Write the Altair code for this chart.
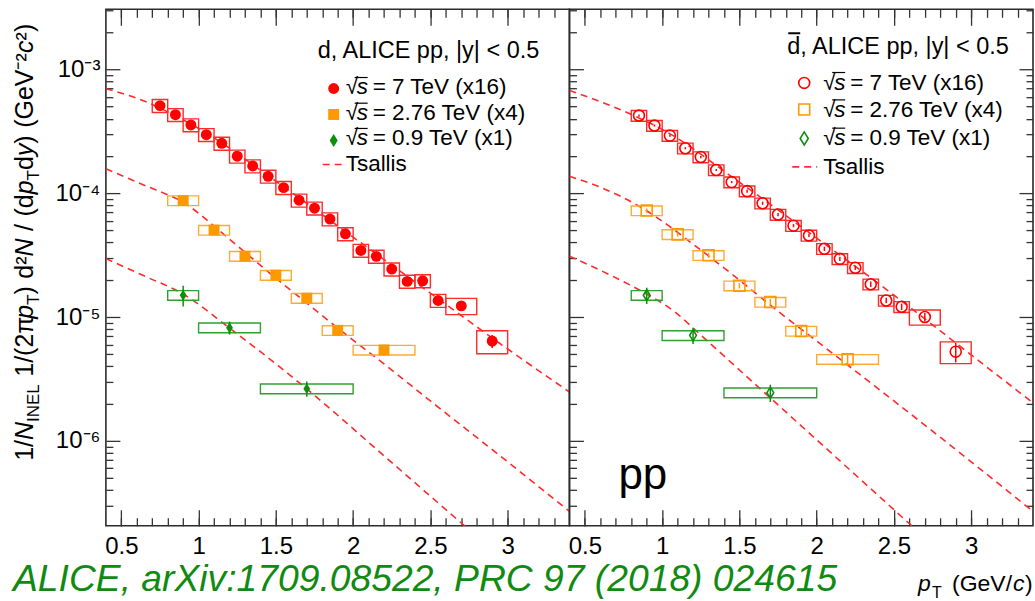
import altair as alt
import pandas as pd

FONT = "Liberation Sans"
SER = ["7", "2.76", "0.9"]

# ---------------- deuterons (left panel) ----------------
d7_pt = [0.75, 0.85, 0.95, 1.05, 1.15, 1.25, 1.35, 1.45, 1.55, 1.65, 1.75,
         1.85, 1.95, 2.05, 2.15, 2.25, 2.35, 2.45, 2.55, 2.7, 2.9]
d7_hw = [0.05, 0.05, 0.05, 0.05, 0.05, 0.05, 0.05, 0.05, 0.05, 0.05, 0.05,
         0.05, 0.05, 0.05, 0.05, 0.05, 0.05, 0.05, 0.05, 0.1, 0.1]
d7_val = [5.10e-4, 4.31e-4, 3.56e-4, 2.97e-4, 2.53e-4, 1.99e-4, 1.66e-4, 1.37e-4,
          1.11e-4, 8.78e-5, 7.57e-5, 6.19e-5, 4.70e-5, 3.45e-5, 3.09e-5, 2.44e-5,
          1.94e-5, 1.96e-5, 1.36e-5, 1.23e-5, 6.40e-6]
d7_stat = [0.02, 0.02, 0.02, 0.02, 0.02, 0.02, 0.02, 0.02, 0.03, 0.03, 0.03,
           0.03, 0.03, 0.04, 0.04, 0.04, 0.05, 0.05, 0.06, 0.08, 0.12]
d7_sys = [0.12, 0.12, 0.12, 0.12, 0.12, 0.12, 0.12, 0.12, 0.12, 0.12, 0.12,
          0.12, 0.12, 0.12, 0.12, 0.12, 0.12, 0.12, 0.12, 0.15, 0.21]

d276_pt = [0.9, 1.1, 1.3, 1.5, 1.7, 1.9, 2.2]
d276_hw = [0.1, 0.1, 0.1, 0.1, 0.1, 0.1, 0.2]
d276_val = [8.73e-5, 5.04e-5, 3.10e-5, 2.18e-5, 1.42e-5, 7.81e-6, 5.42e-6]
d276_stat = [0.04, 0.04, 0.05, 0.05, 0.06, 0.10, 0.10]
d276_sys = [0.09, 0.09, 0.09, 0.09, 0.09, 0.09, 0.09]

d09_pt = [0.9, 1.2, 1.7]
d09_hw = [0.1, 0.2, 0.3]
d09_val = [1.50e-5, 8.20e-6, 2.64e-6]
d09_stat = [0.19, 0.12, 0.14]
d09_sys = [0.09, 0.09, 0.09]

# ---------------- anti-deuterons (right panel) ----------------
db7_pt = [0.85, 0.95, 1.05, 1.15, 1.25, 1.35, 1.45, 1.55, 1.65, 1.75, 1.85,
          1.95, 2.05, 2.15, 2.25, 2.35, 2.45, 2.55, 2.7, 2.9]
db7_hw = [0.05, 0.05, 0.05, 0.05, 0.05, 0.05, 0.05, 0.05, 0.05, 0.05, 0.05,
          0.05, 0.05, 0.05, 0.05, 0.05, 0.05, 0.05, 0.1, 0.1]
db7_val = [4.24e-4, 3.52e-4, 2.92e-4, 2.31e-4, 1.96e-4, 1.54e-4, 1.23e-4, 1.04e-4,
           8.30e-5, 6.73e-5, 5.47e-5, 4.56e-5, 3.56e-5, 2.95e-5, 2.50e-5, 1.84e-5,
           1.36e-5, 1.21e-5, 1.00e-5, 5.25e-6]
db7_stat = [0.02, 0.02, 0.02, 0.02, 0.02, 0.02, 0.02, 0.03, 0.03, 0.03, 0.03,
            0.03, 0.04, 0.04, 0.04, 0.05, 0.05, 0.06, 0.08, 0.18]
db7_sys = [0.10, 0.10, 0.10, 0.10, 0.10, 0.10, 0.10, 0.10, 0.10, 0.10, 0.10,
           0.10, 0.10, 0.10, 0.10, 0.10, 0.10, 0.10, 0.14, 0.20]

db276_pt = [0.9, 1.1, 1.3, 1.5, 1.7, 1.9, 2.2]
db276_hw = [0.1, 0.1, 0.1, 0.1, 0.1, 0.1, 0.2]
db276_val = [7.24e-5, 4.65e-5, 3.15e-5, 1.79e-5, 1.32e-5, 7.71e-6, 4.56e-6]
db276_stat = [0.04, 0.04, 0.05, 0.05, 0.06, 0.08, 0.10]
db276_sys = [0.09, 0.09, 0.09, 0.09, 0.09, 0.09, 0.09]

db09_pt = [0.9, 1.2, 1.7]
db09_hw = [0.1, 0.2, 0.3]
db09_val = [1.50e-5, 7.11e-6, 2.45e-6]
db09_stat = [0.15, 0.15, 0.16]
db09_sys = [0.09, 0.09, 0.09]

# ---------------- Tsallis curves ----------------
c_d7_pt = [0.4, 0.68, 0.8, 1.0, 1.5, 2.0, 2.5, 3.0, 3.4]
c_d7_val = [6.99e-4, 5.35e-4, 4.54e-4, 3.34e-4, 1.25e-4, 4.42e-5, 1.56e-5, 5.52e-6, 2.48e-6]
c_d276_pt = [0.4, 0.68, 0.8, 0.9, 1.0, 1.1, 1.3, 1.5, 1.7, 1.9, 2.2, 2.5, 3.0, 3.4]
c_d276_val = [1.576e-4, 1.118e-4, 9.72e-5, 8.46e-5, 6.90e-5, 5.42e-5, 3.34e-5, 2.06e-5,
              1.297e-5, 8.15e-6, 4.18e-6, 2.10e-6, 6.77e-7, 2.69e-7]
c_d09_pt = [0.4, 0.65, 0.9, 1.2, 1.7, 2.2, 2.72, 3.4]
c_d09_val = [2.963e-5, 2.141e-5, 1.533e-5, 8.15e-6, 2.627e-6, 7.57e-7, 2.063e-7, 3.81e-8]

c_db7_pt = [0.4, 0.78, 1.0, 1.5, 2.0, 2.5, 3.0, 3.4]
c_db7_val = [6.77e-4, 4.44e-4, 3.28e-4, 1.227e-4, 4.34e-5, 1.504e-5, 4.94e-6, 2.025e-6]
c_db276_pt = [0.4, 0.6, 0.85, 1.0, 1.2, 1.5, 1.74, 2.0, 2.2, 2.5, 3.0, 3.4]
c_db276_val = [1.371e-4, 1.118e-4, 7.86e-5, 5.95e-5, 3.88e-5, 1.988e-5, 1.139e-5, 6.40e-6,
               4.10e-6, 2.10e-6, 6.77e-7, 2.69e-7]
c_db09_pt = [0.4, 0.9, 1.0, 1.1, 1.2, 1.7, 2.0, 2.6, 3.4]
c_db09_val = [3.103e-5, 1.533e-5, 1.297e-5, 1.057e-5, 8.15e-6, 2.222e-6, 1.019e-6, 2.141e-7, 2.675e-8]

# ---------------- axis tick positions ----------------
X_MAJOR = [0.5, 1.0, 1.5, 2.0, 2.5, 3.0]
X_MINOR = [round(0.5 + 0.1 * i, 2) for i in range(29)]
Y_MAJOR = [1e-6, 1e-5, 1e-4, 1e-3]
Y_MINOR = [k * 10.0 ** e for e in range(-7, -2) for k in range(2, 10)
           if 2.06e-7 <= k * 10.0 ** e <= 3.06e-3]

COL = ["#ff0000", "#ff9900", "#0d8f0d"]
BOX = ["#ff2a2a", "#ffaa33", "#2fa02f"]
DIAMOND = "M0,-1L0.62,0L0,1L-0.62,0Z"
AXC = "#333333"
ONE = pd.DataFrame({"k": [0]})


def points_df(series):
    rows = []
    for s, pt, hw, val, stat, sys in series:
        for i in range(len(pt)):
            rows.append(dict(series=s, pt=pt[i], x_lo=pt[i] - hw[i], x_hi=pt[i] + hw[i],
                             y=val[i], ys_lo=val[i] * (1 - sys[i]), ys_hi=val[i] * (1 + sys[i]),
                             yt_lo=val[i] * (1 - stat[i]), yt_hi=val[i] * (1 + stat[i])))
    return pd.DataFrame(rows)


def curves_df(series):
    rows = []
    for s, pt, val in series:
        for p, v in zip(pt, val):
            rows.append(dict(series=s, pt=p, val=v))
    return pd.DataFrame(rows)


def xaxis(orient, major, labels=False):
    size = 16 if major else 8
    kw = dict(orient=orient, values=X_MAJOR if major else X_MINOR, tickSize=size, offset=-size,
              domain=False, grid=False, ticks=True, labels=labels, tickColor=AXC, tickWidth=1.3,
              title=None)
    if labels:
        kw.update(format="~g", labelFont=FONT, labelFontSize=24, labelColor="black",
                  labelPadding=9, labelFlush=False, labelOverlap=False)
    return alt.Axis(**kw)


Y_LABELS = ("datum.value > 5e-4 ? '10\u207b\u00b3' : datum.value > 5e-5 ? '10\u207b\u2074' : "
            "datum.value > 5e-6 ? '10\u207b\u2075' : '10\u207b\u2076'")


def yaxis(orient, major, labels=False):
    size = 14 if major else 7
    kw = dict(orient=orient, values=Y_MAJOR if major else Y_MINOR, tickSize=size, offset=-size,
              domain=False, grid=False, ticks=True, labels=labels, tickColor=AXC, tickWidth=1.3,
              title=None)
    if labels:
        kw.update(labelExpr=Y_LABELS, labelFont=FONT, labelFontSize=24, labelColor="black",
                  labelPadding=6, labelFlush=False, labelOverlap=False)
    return alt.Axis(**kw)


def txt(text, x, y, size, color="black", italic=False, angle=0, align="left"):
    kw = dict(text=text, fontSize=size, font=FONT, color=color, align=align, baseline="alphabetic")
    if italic:
        kw["fontStyle"] = "italic"
    if angle:
        kw["angle"] = angle
    return alt.Chart(ONE).mark_text(**kw).encode(x=alt.value(x), y=alt.value(y))


def lpoint(shape, color, filled, x, y, size):
    return alt.Chart(ONE).mark_point(shape=shape, filled=filled, color=color, size=size,
                                     opacity=1, strokeWidth=1.6).encode(x=alt.value(x), y=alt.value(y))


def lrule(x1, x2, y, dash=None, color="#ff2b2b", width=1.6):
    kw = dict(color=color, strokeWidth=width)
    if dash:
        kw["strokeDash"] = dash
    return alt.Chart(ONE).mark_rule(**kw).encode(x=alt.value(x1), x2=alt.value(x2), y=alt.value(y))


def legend(title, x_title, y_title, x_mark, x_text, ys_mark, ys_text, dash_x, filled):
    layers = [txt(title, x_title, y_title, 23.5)]
    shapes = ["circle", "square", DIAMOND]
    sizes = [120, 120, 170]
    labels = ["= 7 TeV (x16)", "= 2.76 TeV (x4)", "= 0.9 TeV (x1)"]
    for i in range(3):
        layers.append(lpoint(shapes[i], COL[i], filled, x_mark, ys_mark[i], sizes[i]))
        layers.append(txt("\u221a", x_text, ys_text[i], 22.5))
        layers.append(lrule(x_text + 9, x_text + 22, ys_text[i] - 17, color="black", width=1.2))
        layers.append(txt("s", x_text + 11, ys_text[i], 22.5, italic=True))
        layers.append(txt(labels[i], x_text + 27, ys_text[i], 22.5))
    layers.append(lrule(dash_x[0], dash_x[1], ys_mark[3], dash=[7, 5]))
    layers.append(txt("Tsallis", x_text, ys_text[3], 22.5))
    return layers


def panel(df, cf, filled, is_left, extras):
    xs = alt.Scale(domain=[0.4, 3.4], nice=False, zero=False)
    ys = alt.Scale(type="log", domain=[2.06e-7, 3.06e-3], nice=False)
    col = alt.Scale(domain=SER, range=COL)
    curves = alt.Chart(cf).mark_line(color="#ff2b2b", strokeDash=[7, 5], strokeWidth=1.6,
                                     clip=True, interpolate="monotone").encode(
        x=alt.X("pt:Q", scale=xs, axis=xaxis("top", False)),
        y=alt.Y("val:Q", scale=ys, axis=None if is_left else yaxis("right", False)),
        detail="series:N")
    boxes = alt.Chart(df).mark_rect(fillOpacity=0, strokeWidth=1.4).encode(
        x=alt.X("x_lo:Q", scale=xs, axis=xaxis("bottom", True, labels=True)),
        x2="x_hi:Q",
        y=alt.Y("ys_lo:Q", scale=ys, axis=yaxis("left", True, labels=is_left)),
        y2="ys_hi:Q",
        stroke=alt.Stroke("series:N", scale=alt.Scale(domain=SER, range=BOX), legend=None))
    rules = alt.Chart(df).mark_rule(strokeWidth=1.5).encode(
        x=alt.X("pt:Q", scale=xs, axis=xaxis("bottom", False)),
        y=alt.Y("yt_lo:Q", scale=ys, axis=yaxis("left", False)),
        y2="yt_hi:Q",
        color=alt.Color("series:N", scale=col, legend=None))
    pts = alt.Chart(df).mark_point(filled=filled, opacity=1, strokeWidth=1.6).encode(
        x=alt.X("pt:Q", scale=xs, axis=xaxis("top", True)),
        y=alt.Y("y:Q", scale=ys, axis=None if is_left else yaxis("right", True)),
        color=alt.Color("series:N", scale=col, legend=None),
        shape=alt.Shape("series:N", scale=alt.Scale(domain=SER, range=["circle", "square", DIAMOND]),
                        legend=None),
        size=alt.Size("series:N", scale=alt.Scale(domain=SER, range=[120, 120, 170]), legend=None))
    return alt.layer(curves, boxes, rules, pts, *extras).resolve_axis(
        x="independent", y="independent").properties(width=464, height=517)


df_d = points_df([("7", d7_pt, d7_hw, d7_val, d7_stat, d7_sys),
                  ("2.76", d276_pt, d276_hw, d276_val, d276_stat, d276_sys),
                  ("0.9", d09_pt, d09_hw, d09_val, d09_stat, d09_sys)])
cf_d = curves_df([("7", c_d7_pt, c_d7_val), ("2.76", c_d276_pt, c_d276_val),
                  ("0.9", c_d09_pt, c_d09_val)])
df_db = points_df([("7", db7_pt, db7_hw, db7_val, db7_stat, db7_sys),
                   ("2.76", db276_pt, db276_hw, db276_val, db276_stat, db276_sys),
                   ("0.9", db09_pt, db09_hw, db09_val, db09_stat, db09_sys)])
cf_db = curves_df([("7", c_db7_pt, c_db7_val), ("2.76", c_db276_pt, c_db276_val),
                   ("0.9", c_db09_pt, c_db09_val)])

# ---------------- y-axis title built from pieces (rotated) ----------------
WID = {"1": .556, "/": .278, "N": .722, "I": .278, "E": .667, "L": .556, "(": .333,
       ")": .333, "2": .556, "\u03c0": .6, "p": .556, "T": .611, "d": .556, "\u00b2": .333,
       "y": .5, "G": .778, "e": .556, "V": .667, "\u207b": .333, "c": .5}
SP = 0.3  # em gap
TITLE = [("1/", "n"), ("N", "i"), ("INEL", "s"), (SP, "g"), ("1/(2\u03c0", "n"), ("p", "i"),
         ("T", "s"), (")", "n"), (SP, "g"), ("d\u00b2", "n"), ("N", "i"), (SP, "g"),
         ("/", "n"), (SP, "g"), ("(d", "n"), ("p", "i"), ("T", "s"), ("d", "n"),
         ("y", "i"), (")", "n"), (SP, "g"), ("(GeV\u207b\u00b2", "n"), ("c", "i"),
         ("\u00b2)", "n")]
MAIN, SUB = 25, 17
title_layers = []
ty = 452.0
for s, kind in TITLE:
    if kind == "g":
        ty -= s * MAIN
        continue
    size = SUB if kind == "s" else MAIN
    xb = -67 if kind == "s" else -73
    title_layers.append(txt(s, xb, ty, size, italic=(kind == "i"), angle=270))
    ty -= sum(WID.get(ch, 0.55) for ch in s) * size

left_extras = legend("d, ALICE pp, |y| < 0.5", 212, 49, 228, 240,
                     [79.3, 105.3, 131.3, 155.3], [85.3, 111, 136.3, 162], (217, 238), True)
left_extras += title_layers
left_extras.append(txt("ALICE, arXiv:1709.08522, PRC 97 (2018) 024615", -93, 582, 37.3,
                       color="#108a10", italic=True))

right_extras = legend("d, ALICE pp, |y| < 0.5", 218, 45, 235, 254,
                      [73.7, 100.3, 129.3, 157.7], [80.3, 107.7, 136, 165.3], (223, 248), False)
right_extras += [
    lrule(219, 231, 24, color="black", width=2),
    txt("pp", 49, 480, 44),
    txt("p", 349, 582, 23, italic=True),
    txt("T", 363, 589, 16),
    txt("(GeV/", 383, 582, 23),
    txt("c", 444, 582, 23, italic=True),
    txt(")", 456, 582, 23),
]

left = panel(df_d, cf_d, True, True, left_extras)
right = panel(df_db, cf_db, False, False, right_extras)

chart = alt.hconcat(left, right, spacing=0, bounds="flush").properties(
    padding={"left": 12, "top": 7, "right": 0, "bottom": 0}, background="white"
).configure_view(stroke="#2b2b2b", strokeWidth=1.6)

chart.save("out.html", embed_options={"renderer": "svg", "actions": False})
